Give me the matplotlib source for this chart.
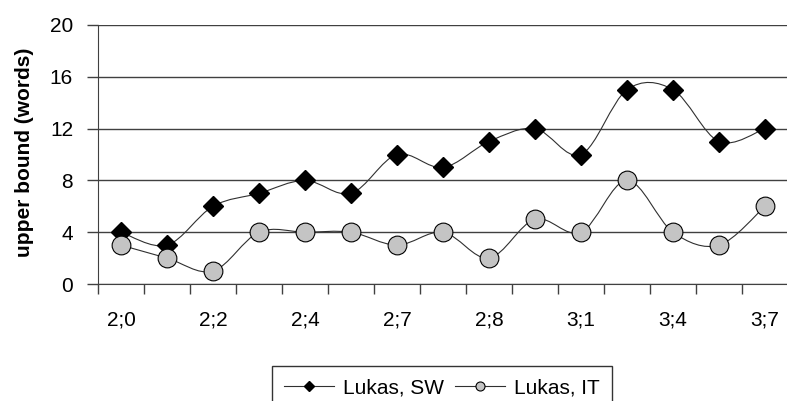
import numpy as np
import matplotlib
matplotlib.use("Agg")
import matplotlib.pyplot as plt
from matplotlib.path import Path
from matplotlib.patches import PathPatch
from matplotlib.lines import Line2D

plt.rcParams['font.family'] = ['Liberation Sans', 'DejaVu Sans']

# donnees
tick_labels = ["2;0", "2;2", "2;4", "2;7", "2;8", "3;1", "3;4", "3;7"]
lukas_sw = [4, 3, 6, 7, 8, 7, 10, 9, 11, 12, 10, 15, 15, 11, 12]
lukas_it = [3, 2, 1, 4, 4, 4, 3, 4, 2, 5, 4, 8, 4, 3, 6]
y_ticks = [0, 4, 8, 12, 16, 20]


def smooth_path(x, y):
    # courbe lissée façon Excel (Bezier / Catmull-Rom)
    pts = np.column_stack([x, y]).astype(float)
    n = len(pts)
    verts = [pts[0]]
    codes = [Path.MOVETO]
    for i in range(n - 1):
        p0 = pts[i - 1] if i > 0 else pts[i]
        p1 = pts[i]
        p2 = pts[i + 1]
        p3 = pts[i + 2] if i + 2 < n else pts[i + 1]
        verts += [p1 + (p2 - p0) / 6, p2 - (p3 - p1) / 6, p2]
        codes += [Path.CURVE4] * 3
    return Path(verts, codes)


W, H = 787, 401
fig = plt.figure(figsize=(W / 100, H / 100), dpi=100)
ax = fig.add_axes([98 / W, 1 - 284 / H, 690 / W, 259 / H])

x = np.arange(len(lukas_sw))

for vals in (lukas_sw, lukas_it):
    ax.add_patch(PathPatch(smooth_path(x, vals), facecolor='none',
                           edgecolor='#303030', lw=0.8, zorder=3))

ax.plot(x, lukas_sw, ls='none', marker='D', ms=10, mfc='black',
        mec='black', zorder=4)
ax.plot(x, lukas_it, ls='none', marker='o', ms=13.5, mfc='#c4c4c4',
        mec='black', mew=0.8, zorder=4)

ax.set_xlim(-0.5, len(x) - 0.5)
ax.set_ylim(0, 20)
ax.set_yticks(y_ticks)
ax.set_xticks(x[::2])
ax.set_xticklabels(tick_labels)
ax.set_xticks(np.arange(-0.5, len(x), 1), minor=True)
ax.tick_params(axis='x', which='major', length=0, pad=19, labelsize=15)
ax.tick_params(axis='x', which='minor', length=7, width=1, color='#404040')
ax.tick_params(axis='y', length=8, width=1, color='#404040', pad=10,
               labelsize=15)

ax.grid(axis='y', color='#404040', lw=1.0)
ax.set_axisbelow(True)
for s in ('top', 'right'):
    ax.spines[s].set_visible(False)
ax.spines['left'].set_color('#404040')
ax.spines['bottom'].set_color('#404040')

fig.text(25 / W, 1 - 152 / H, "upper bound (words)", rotation=90,
         ha='center', va='center', fontsize=15, fontweight='bold')

handles = [
    Line2D([], [], color='#303030', lw=0.8, marker='D', ms=5.5, mfc='black',
           mec='black'),
    Line2D([], [], color='#303030', lw=0.8, marker='o', ms=6.5, mfc='#c4c4c4',
           mec='black', mew=0.8),
]
leg = fig.legend(handles, ["Lukas, SW", "Lukas, IT"], loc='upper center',
                 bbox_to_anchor=(442 / W, 1 - 366 / H), ncol=2, fontsize=15,
                 frameon=True, fancybox=False, edgecolor='black',
                 handlelength=2.4, handletextpad=0.45, columnspacing=0.5,
                 borderpad=0.58, borderaxespad=0)
leg.get_frame().set_linewidth(1.0)

fig.savefig("out.png", dpi=100)
